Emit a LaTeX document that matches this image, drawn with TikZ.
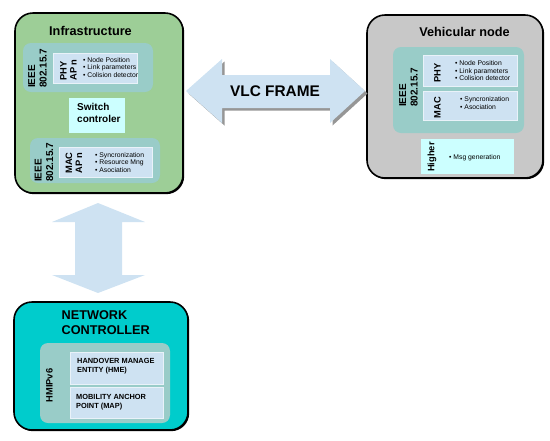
\documentclass[tikz,border=0pt]{standalone}
\usepackage{fontspec}
\setmainfont{Liberation Sans}
\usetikzlibrary{shapes, calc, positioning, shadows}

\definecolor{infragreen}{RGB}{157,206,151}
\definecolor{vehgray}{RGB}{200,200,200}
\definecolor{netteal}{RGB}{0,204,204}
\definecolor{stackteal}{RGB}{153,204,200}
\definecolor{layerblue}{RGB}{206,226,242}
\definecolor{ctrlcyan}{RGB}{204,255,255}
\definecolor{shadowgray}{RGB}{150,150,150}

\tikzset{
  outerbox/.style={draw=black, line width=1.6pt, rounded corners=18pt, inner sep=0pt,
    drop shadow={shadow xshift=1.2pt, shadow yshift=-1.2pt, fill=black, opacity=1}},
  stackbox/.style={fill=stackteal, rounded corners=8pt, inner sep=0pt},
  layerbox/.style={fill=layerblue, draw=white!55!layerblue, line width=0.6pt, inner sep=0pt},
  ctrlbox/.style={fill=ctrlcyan, inner sep=0pt},
  boxtitle/.style={font=\bfseries\fontsize{12.7}{15}\selectfont, inner sep=0pt},
  stacklabel/.style={rotate=90, align=left, font=\bfseries\fontsize{10}{11.5}\selectfont, inner sep=0pt},
  layerlabel/.style={rotate=90, align=left, font=\bfseries\fontsize{9.3}{10}\selectfont, inner sep=0pt},
  bullets/.style={anchor=west, align=left, font=\fontsize{6.8}{7.3}\selectfont, inner sep=0pt},
  entity/.style={anchor=west, align=left, font=\bfseries\fontsize{7.4}{9}\selectfont, inner sep=0pt},
}

\begin{document}
\begin{tikzpicture}[x=1pt, y=-1pt]
  \useasboundingbox (0,0) rectangle (550,440);

  % Infrastructure
  \node[outerbox, fill=infragreen, minimum width=168pt, minimum height=180pt] (infra) at (99,103) {};
  \node[boxtitle, anchor=base] (infratitle) at (90.5,35) {Infrastructure};
  \node[stackbox, minimum width=130pt, minimum height=49pt] (ieeeup) at (88,67.5) {};
  \node[stacklabel] (ieeeuplabel) at (37.5,68.5) {IEEE\\802.15.7};
  \node[layerbox, minimum width=84pt, minimum height=30pt] (phyap) at (95,68) {};
  \node[layerlabel] (phyaplabel) at (68.5,70) {PHY\\AP n};
  \node[bullets] (phyapitems) at (83,67.5) {\textbullet\ Node Position\\\textbullet\ Link parameters\\\textbullet\ Colision detector};
  \node[ctrlbox, minimum width=56pt, minimum height=35pt] (switch) at (97,115.5) {};
  \node[anchor=west, align=left, inner sep=0pt, font=\bfseries\fontsize{10}{11.5}\selectfont] (switchlabel) at (77,113) {Switch\\controler};
  \node[stackbox, minimum width=130pt, minimum height=45pt] (ieeedown) at (95,160.5) {};
  \node[stacklabel] (ieeedownlabel) at (44,162.5) {IEEE\\802.15.7};
  \node[layerbox, minimum width=93pt, minimum height=30pt] (macap) at (105.5,162) {};
  \node[layerlabel] (macaplabel) at (74,163) {MAC\\AP n};
  \node[bullets] (macapitems) at (95,162.3) {\textbullet\ Syncronization\\\textbullet\ Resource Mng\\\textbullet\ Asociation};

  % Vehicular node
  \node[outerbox, fill=vehgray, minimum width=176pt, minimum height=163pt] (veh) at (455,96.5) {};
  \node[boxtitle, anchor=base] (vehtitle) at (464.5,36) {Vehicular node};
  \node[stackbox, minimum width=131pt, minimum height=86pt] (ieeeveh) at (458.5,90) {};
  \node[stacklabel] (ieeevehlabel) at (408.5,87.5) {IEEE\\802.15.7};
  \node[layerbox, minimum width=94pt, minimum height=31pt] (phyveh) at (470,70.5) {};
  \node[layerlabel] (phyvehlabel) at (437.5,73) {PHY};
  \node[bullets] (phyvehitems) at (455,70.8) {\textbullet\ Node Position\\\textbullet\ Link parameters\\\textbullet\ Colision detector};
  \node[layerbox, minimum width=94pt, minimum height=29pt] (macveh) at (470,105.5) {};
  \node[layerlabel] (macvehlabel) at (437.5,107.5) {MAC};
  \node[bullets] (macvehitems) at (460,103) {\textbullet\ Syncronization\\\textbullet\ Asociation};
  \node[ctrlbox, minimum width=93pt, minimum height=35pt] (higher) at (467.5,156.5) {};
  \node[layerlabel] (higherlabel) at (432,157) {Higher};
  \node[bullets] (higheritems) at (449,158) {\textbullet\ Msg generation};

  % Network controller
  \node[outerbox, fill=netteal, minimum width=174pt, minimum height=128pt] (net) at (101,366) {};
  \node[boxtitle, anchor=west, align=left] (nettitle) at (61.5,323) {NETWORK\\CONTROLLER};
  \node[stackbox, minimum width=130pt, minimum height=80pt] (hmip) at (105,383) {};
  \node[layerlabel] (hmiplabel) at (49.5,385.5) {HMIPv6};
  \node[layerbox, minimum width=93pt, minimum height=32pt] (hme) at (116.5,368) {};
  \node[entity] (hmelabel) at (77,366.5) {HANDOVER MANAGE\\ENTITY (HME)};
  \node[layerbox, minimum width=93pt, minimum height=31pt] (map) at (116.5,402.5) {};
  \node[entity] (maplabel) at (76,402.5) {MOBILITY ANCHOR\\POINT (MAP)};

  % VLC frame arrow
  \fill[shadowgray, shift={(2.5,2.5)}] (186,91) -- (222,59) -- (222,75) -- (330,75) -- (330,59) -- (365,91)
    -- (330,123) -- (330,108) -- (222,108) -- (222,123) -- cycle;
  \fill[layerblue] (186,91) -- (222,59) -- (222,75) -- (330,75) -- (330,59) -- (365,91)
    -- (330,123) -- (330,108) -- (222,108) -- (222,123) -- cycle;
  \node[inner sep=0pt, font=\bfseries\fontsize{15.4}{18}\selectfont] (vlc) at (275,91) {VLC FRAME};

  % infrastructure <-> network controller
  \fill[layerblue] (98,203) -- (145,222) -- (122,222) -- (122,275) -- (145,275) -- (98,293)
    -- (52,275) -- (75,275) -- (75,222) -- (52,222) -- cycle;
\end{tikzpicture}
\end{document}
